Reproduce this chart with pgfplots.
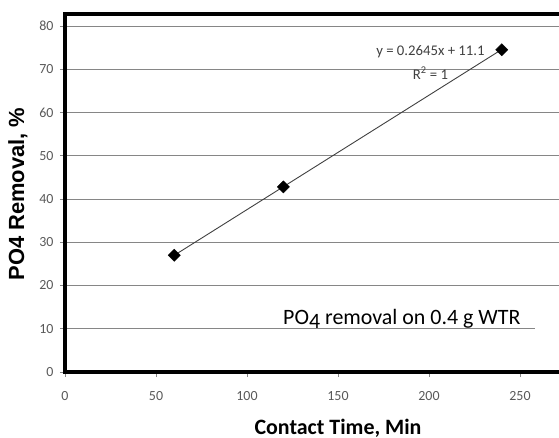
\documentclass[border=0pt]{standalone}
\usepackage{pgfplots}
\pgfplotsset{compat=1.18}
\usepackage{fontspec}
\setmainfont{Carlito}
\newfontfamily\arialfont{Liberation Sans}
\definecolor{tickgray}{HTML}{595959}
\definecolor{gridgray}{HTML}{868686}
\begin{document}
\begin{tikzpicture}
\useasboundingbox (-65bp,-66bp) rectangle (494bp,372bp);
\begin{axis}[
  at={(0,0)}, anchor=south west,
  x=1.82bp, y=4.325bp,
  xmin=0, xmax=272, ymin=0, ymax=82.8,
  axis line style={draw=none},
  xtick={0,50,...,250}, ytick={0,10,...,80},
  tick align=outside, tick pos=left,
  major tick length=5bp,
  tick style={gridgray, line width=0.8bp},
  ymajorgrids, grid style={gridgray, line width=0.9bp},
  ticklabel style={font=\fontsize{14}{14}\selectfont, text=tickgray},
  xticklabel style={yshift=-11bp},
  yticklabel style={xshift=-3bp},
  /pgf/number format/assume math mode=true,
  clip mode=individual,
]
\addplot[draw=black!75, line width=0.9bp] coordinates {(60,26.97) (240,74.58)};
\addplot[only marks, mark=square*, mark size=4.3bp, mark options={rotate=45, fill=black, draw=black}] coordinates {(60,27.0) (120,42.8) (240,74.5)};
\fill[white] (axis cs:258.5,9) rectangle (axis cs:273,11);
\draw[line width=3.5bp, line cap=rect] (rel axis cs:1,0) -- (rel axis cs:0,0) -- (rel axis cs:0,1) -- (rel axis cs:1,1);
\node[font=\fontsize{14.8}{15}\selectfont, text=black!75, inner sep=0] at (axis cs:200.8,74.0) {y = 0.2645x + 11.1};
\node[font=\fontsize{14.8}{15}\selectfont, text=black!75, inner sep=0] at (axis cs:200.8,69.1) {R\textsuperscript{2} = 1};
\node[font=\fontsize{22}{22}\selectfont, anchor=base west, inner sep=0] at (axis cs:119.8,10.9) {PO\raisebox{-0.35ex}{4} removal on 0.4 g WTR};
\node[font=\fontsize{22}{22}\selectfont\bfseries, anchor=base, inner sep=0] at ([yshift=-62bp]axis cs:150,0) {Contact Time, Min};
\node[font=\fontsize{22}{22}\selectfont\arialfont\bfseries, rotate=90, anchor=center, inner sep=0] at ([xshift=-47bp]rel axis cs:0,0.497) {PO4 Removal, \%};
\end{axis}
\end{tikzpicture}
\end{document}
